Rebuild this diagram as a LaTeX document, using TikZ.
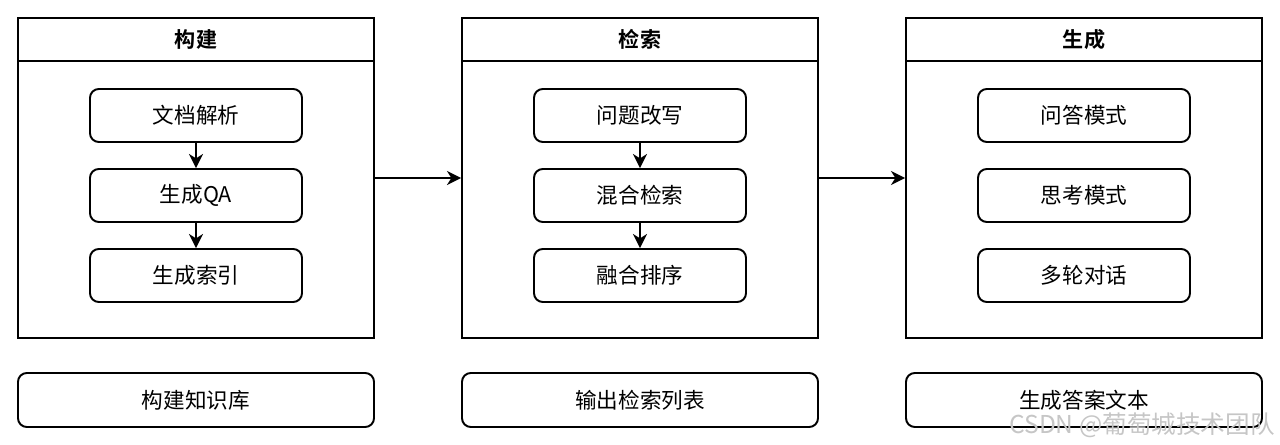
\documentclass[tikz,border=0pt]{standalone}
\usepackage{fontspec}
\usepackage{tikz}
\usetikzlibrary{positioning,arrows.meta}
\newfontfamily\cjk[BoldFont={Noto Sans CJK SC Bold}]{Noto Sans CJK SC}

\tikzset{
  frame/.style={draw,line width=1.1pt,minimum width=7.12cm,minimum height=6.4cm},
  titlebar/.style={draw,line width=1.1pt,minimum width=7.12cm,minimum height=0.86cm,font=\cjk\bfseries\fontsize{12}{13}\selectfont},
  stepbox/.style={draw,line width=1.1pt,rounded corners=5pt,minimum width=4.24cm,minimum height=1.06cm},
  resultbox/.style={draw,line width=1.1pt,rounded corners=5pt,minimum width=7.12cm,minimum height=1.08cm}
}

\begin{document}
\begin{tikzpicture}[>={Stealth[length=8pt,width=8pt,inset=2.5pt]},every node/.style={on grid,font=\cjk\fontsize{12.3}{13}\selectfont}]
    \useasboundingbox (0,0) rectangle (25.6,-8.9);
    % the three stages
    \node[frame] (build) at (3.92,-3.56) {};
    \node[frame,right of=build,node distance=8.88cm] (search) {};
    \node[frame,right of=search,node distance=8.88cm] (gen) {};
    \node[titlebar,anchor=north] (buildT) at (build.north) {构建};
    \node[titlebar,anchor=north] (searchT) at (search.north) {检索};
    \node[titlebar,anchor=north] (genT) at (gen.north) {生成};
    % steps
    \node[stepbox] (parse) at (3.92,-2.31) {文档解析};
    \node[stepbox,below of=parse,node distance=1.6cm] (qa) {生成QA};
    \node[stepbox,below of=qa,node distance=1.6cm] (index) {生成索引};
    \node[stepbox,right of=parse,node distance=8.88cm] (rewrite) {问题改写};
    \node[stepbox,below of=rewrite,node distance=1.6cm] (hybrid) {混合检索};
    \node[stepbox,below of=hybrid,node distance=1.6cm] (rerank) {融合排序};
    \node[stepbox,right of=rewrite,node distance=8.88cm] (qamode) {问答模式};
    \node[stepbox,below of=qamode,node distance=1.6cm] (think) {思考模式};
    \node[stepbox,below of=think,node distance=1.6cm] (multi) {多轮对话};
    % outputs
    \node[resultbox,below of=build,node distance=4.44cm] (kb) {构建知识库};
    \node[resultbox,below of=search,node distance=4.44cm] (list) {输出检索列表};
    \node[resultbox,below of=gen,node distance=4.44cm] (answer) {生成答案文本};
    \draw[->,line width=1.1pt] (parse) -- (qa);
    \draw[->,line width=1.1pt] (qa) -- (index);
    \draw[->,line width=1.1pt] (rewrite) -- (hybrid);
    \draw[->,line width=1.1pt] (hybrid) -- (rerank);
    \draw[->,line width=1.1pt] (build) -- (search);
    \draw[->,line width=1.1pt] (search) -- (gen);
    \node[text=gray!45,font=\cjk\fontsize{14}{14}\selectfont] (mark) at (22.84,-8.5) {CSDN @葡萄城技术团队};
  \end{tikzpicture}
\end{document}
